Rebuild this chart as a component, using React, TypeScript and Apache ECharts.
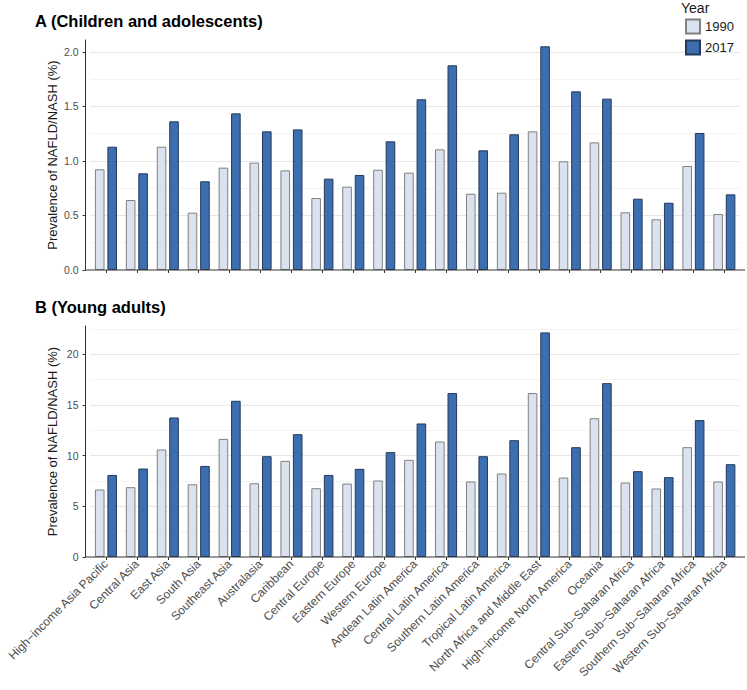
import React, { useEffect, useRef } from "react";
import * as echarts from "echarts";

const categories = [
  "High−income Asia Pacific",
  "Central Asia",
  "East Asia",
  "South Asia",
  "Southeast Asia",
  "Australasia",
  "Caribbean",
  "Central Europe",
  "Eastern Europe",
  "Western Europe",
  "Andean Latin America",
  "Central Latin America",
  "Southern Latin America",
  "Tropical Latin America",
  "North Africa and Middle East",
  "High−income North America",
  "Oceania",
  "Central Sub−Saharan Africa",
  "Eastern Sub−Saharan Africa",
  "Southern Sub−Saharan Africa",
  "Western Sub−Saharan Africa",
];

const children1990 = [0.924, 0.642, 1.131, 0.526, 0.939, 0.985, 0.914, 0.66, 0.765, 0.92, 0.893, 1.107, 0.7, 0.709, 1.272, 0.997, 1.171, 0.529, 0.465, 0.954, 0.514];
const children2017 = [1.131, 0.887, 1.364, 0.814, 1.437, 1.272, 1.29, 0.838, 0.872, 1.18, 1.566, 1.878, 1.098, 1.245, 2.052, 1.639, 1.572, 0.654, 0.617, 1.257, 0.694];

const young1990 = [6.66, 6.89, 10.61, 7.18, 11.66, 7.28, 9.49, 6.79, 7.25, 7.55, 9.59, 11.4, 7.45, 8.24, 16.18, 7.84, 13.7, 7.35, 6.76, 10.84, 7.45];
const young2017 = [8.1, 8.73, 13.77, 8.99, 15.42, 9.95, 12.12, 8.1, 8.7, 10.35, 13.18, 16.18, 9.95, 11.53, 22.17, 10.84, 17.16, 8.47, 7.88, 13.51, 9.16];

const years = ["1990", "2017"];
const titles = ["A (Children and adolescents)", "B (Young adults)"];
const yName = "Prevalence of NAFLD/NASH (%)";

const FONT = "'Liberation Sans', Arial, Helvetica, sans-serif";
const LIGHT = "#dbe2ef";
const LIGHT_BORDER = "#808080";
const DARK = "#3d6eb0";
const DARK_BORDER = "#233a5c";
const AXIS = "#333333";

export default function App() {
  const ref = useRef<HTMLDivElement>(null);

  useEffect(() => {
    if (!ref.current) return;
    const chart = echarts.init(ref.current, null, { renderer: "svg" });

    const gridLeft = 90.5;
    const gridRight = 7.2;
    const grids = [
      { left: gridLeft, right: gridRight, top: 40, height: 230, outerBoundsMode: "none", containLabel: false },
      { left: gridLeft, right: gridRight, top: 326, height: 231, outerBoundsMode: "none", containLabel: false },
    ];
    const yMax = [2.11, 22.8];
    const yInt = [0.5, 5];
    const fmt = [
      (v: number) => v.toFixed(1),
      (v: number) => String(v),
    ];

    const xAxis: any[] = [0, 1].map((g) => ({
      type: "category",
      gridIndex: g,
      position: "bottom",
      data: categories,
      boundaryGap: true,
      axisLine: { show: false },
      axisTick: {
        show: true,
        alignWithLabel: true,
        length: 3,
        lineStyle: { color: AXIS, width: 1 },
      },
      axisLabel: {
        show: g === 1,
        interval: 0,
        rotate: 45,
        margin: 5,
        fontSize: 12,
        color: "#4d4d4d",
        fontFamily: FONT,
      },
      splitLine: { show: false },
    }));

    const yAxis: any[] = [];
    [0, 1].forEach((g) => {
      // minor grid
      yAxis.push({
        type: "value",
        gridIndex: g,
        position: "left",
        min: 0,
        max: yMax[g],
        interval: yInt[g] / 2,
        z: 0,
        axisLine: { show: false },
        axisTick: { show: false },
        axisLabel: { show: false },
        splitLine: {
          show: true,
          showMaxLine: false,
          showMinLine: false,
          lineStyle: { color: "#f3f3f3", width: 1 },
        },
      });
      // major axis
      yAxis.push({
        type: "value",
        gridIndex: g,
        position: "left",
        min: 0,
        max: yMax[g],
        interval: yInt[g],
        offset: 5,
        z: 1,
        name: yName,
        nameLocation: "middle",
        nameGap: 27,
        nameMoveOverlap: false,
        nameTextStyle: { fontSize: 13, color: "#1a1a1a", fontFamily: FONT },
        axisLine: { show: true, lineStyle: { color: AXIS, width: 1 } },
        axisTick: { show: true, length: 3, lineStyle: { color: AXIS, width: 1 } },
        axisLabel: {
          margin: 7,
          fontSize: 10.5,
          color: "#4d4d4d",
          fontFamily: FONT,
          showMaxLabel: false,
          formatter: fmt[g],
        },
        splitLine: {
          show: true,
          showMaxLine: false,
          showMinLine: false,
          lineStyle: { color: "#e6e6e6", width: 1 },
        },
      });
    });

    const mkSeries = (name: string, data: number[], g: number, light: boolean) => ({
      name,
      type: "bar",
      xAxisIndex: g,
      yAxisIndex: g * 2 + 1,
      data,
      barWidth: 9.6,
      barGap: "30%",
      z: 2,
      itemStyle: {
        color: light ? LIGHT : DARK,
        borderColor: light ? LIGHT_BORDER : DARK_BORDER,
        borderWidth: 1,
      },
    });

    const series = [
      mkSeries(years[0], children1990, 0, true),
      mkSeries(years[1], children2017, 0, false),
      mkSeries(years[0], young1990, 1, true),
      mkSeries(years[1], young2017, 1, false),
    ];

    chart.setOption({
      animation: false,
      backgroundColor: "#ffffff",
      textStyle: { fontFamily: FONT },
      grid: grids,
      xAxis,
      yAxis,
      series,
      title: [
        {
          text: titles[0],
          left: 35,
          top: 12,
          padding: [0, 0, 0, 0],
          textStyle: { fontSize: 16.5, fontWeight: "bold", color: "#000", fontFamily: FONT },
        },
        {
          text: titles[1],
          left: 35,
          top: 298,
          padding: [0, 0, 0, 0],
          textStyle: { fontSize: 16.5, fontWeight: "bold", color: "#000", fontFamily: FONT },
        },
      ],
      legend: {
        data: years,
        orient: "vertical",
        left: 685,
        top: 18.5,
        padding: 0,
        icon: "rect",
        itemWidth: 14,
        itemHeight: 14,
        itemGap: 5,
        textStyle: { fontSize: 13, color: "#1a1a1a", fontFamily: FONT },
      },
      graphic: [
        {
          type: "text",
          left: 681,
          top: 1,
          style: { text: "Year", fontSize: 14, fill: "#1a1a1a", fontFamily: FONT },
        },
        {
          type: "line",
          shape: { x1: 85.5, y1: 270, x2: 745, y2: 270 },
          style: { stroke: AXIS, lineWidth: 1 },
          z: 10,
        },
        {
          type: "line",
          shape: { x1: 85.5, y1: 557, x2: 745, y2: 557 },
          style: { stroke: AXIS, lineWidth: 1 },
          z: 10,
        },
      ],
    });

    return () => chart.dispose();
  }, []);

  return (
    <div
      ref={ref}
      style={{ position: "absolute", left: 0, top: 0, width: 747, height: 690 }}
    />
  );
}
